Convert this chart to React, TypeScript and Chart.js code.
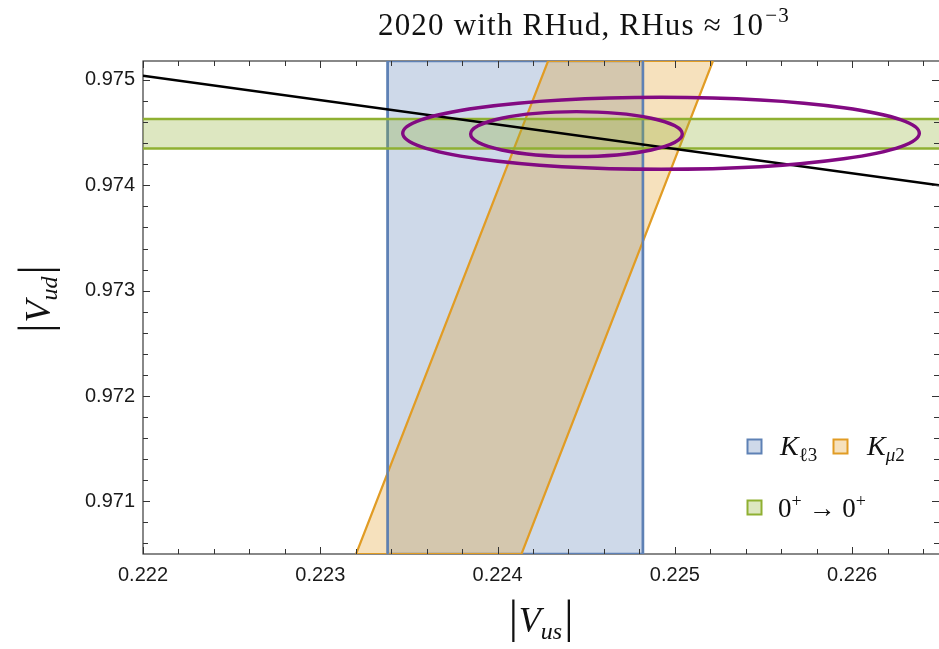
import React, { useEffect, useRef } from "react";
import { Chart, registerables } from "chart.js";

Chart.register(...registerables);

// ---------- axes ----------
const xMin = 0.222;
const xMax = 0.22649;
const yMin = 0.9705;
const yMax = 0.97518;
const xTickLabels = [0.222, 0.223, 0.224, 0.225, 0.226];
const yTickLabels = [0.971, 0.972, 0.973, 0.974, 0.975];
const minorStep = 0.0002;

// ---------- data ----------
// K_l3 band: |Vus| range
const kl3Vus = [0.22338, 0.22482];
// K_mu2 band: each edge given by |Vus| at |Vud| = kmu2EdgeVud[0] and kmu2EdgeVud[1]
const kmu2EdgeVud = [0.9705, 0.97518];
const kmu2LeftEdgeVus = [0.223202, 0.224285];
const kmu2RightEdgeVus = [0.224135, 0.225215];
// 0+ -> 0+ band: |Vud| range
const superallowedVud = [0.97435, 0.97463];
// unitarity line
const unitarityVus = [0.222, 0.22649];
const unitarityVud = [0.97504, 0.974];
// fit ellipses (inner, outer)
const ellipseCenterVus = [0.224445, 0.224922];
const ellipseCenterVud = [0.974486, 0.974494];
const ellipseHalfWidthVus = [0.000597, 0.001457];
const ellipseHalfHeightVud = [0.000213, 0.000342];

// ---------- style ----------
const BLUE = "#5E81B5";
const BLUE_FILL = "rgba(94,129,181,0.3)";
const ORANGE = "#E19C24";
const ORANGE_FILL = "rgba(225,156,36,0.3)";
const GREEN = "#8FB032";
const GREEN_FILL = "rgba(143,176,50,0.3)";
const PURPLE = "#820A82";
const SERIF = "'Liberation Serif', 'DejaVu Serif', serif";
const SANS = "'Liberation Sans', Arial, sans-serif";

type Part = { t: string; font: string; dy?: number; dx?: number };

function richWidth(ctx: CanvasRenderingContext2D, parts: Part[]) {
  let w = 0;
  for (const p of parts) {
    ctx.font = p.font;
    w += ctx.measureText(p.t).width + (p.dx || 0);
  }
  return w;
}

function drawRich(
  ctx: CanvasRenderingContext2D,
  parts: Part[],
  x: number,
  y: number,
  align: "left" | "center"
) {
  const w = richWidth(ctx, parts);
  let cx = align === "center" ? x - w / 2 : x;
  ctx.textAlign = "left";
  ctx.textBaseline = "alphabetic";
  for (const p of parts) {
    ctx.font = p.font;
    cx += p.dx || 0;
    ctx.fillText(p.t, cx, y + (p.dy || 0));
    cx += ctx.measureText(p.t).width;
  }
}

const decorPlugin = {
  id: "decor",
  beforeDatasetsDraw(chart: any) {
    const { ctx, chartArea: a } = chart;
    ctx.save();
    ctx.strokeStyle = "#3a3a3a";
    ctx.lineWidth = 1.2;
    ctx.strokeRect(a.left, a.top, a.right - a.left + 2, a.bottom - a.top);
    ctx.restore();
  },
  afterDatasetsDraw(chart: any) {
    const { ctx, chartArea: a } = chart;
    const xs = chart.scales.x;
    const ys = chart.scales.y;

    // ellipses
    ctx.save();
    ctx.beginPath();
    ctx.rect(a.left, a.top, a.right - a.left, a.bottom - a.top);
    ctx.clip();
    ctx.strokeStyle = PURPLE;
    ctx.lineWidth = 3.4;
    for (let i = 0; i < ellipseCenterVus.length; i++) {
      const cx = xs.getPixelForValue(ellipseCenterVus[i]);
      const cy = ys.getPixelForValue(ellipseCenterVud[i]);
      const rx = Math.abs(xs.getPixelForValue(ellipseCenterVus[i] + ellipseHalfWidthVus[i]) - cx);
      const ry = Math.abs(ys.getPixelForValue(ellipseCenterVud[i] + ellipseHalfHeightVud[i]) - cy);
      ctx.beginPath();
      ctx.ellipse(cx, cy, rx, ry, 0, 0, Math.PI * 2);
      ctx.stroke();
    }
    ctx.restore();

    // inward frame ticks
    ctx.save();
    ctx.strokeStyle = "#333";
    ctx.lineWidth = 1;
    const x0 = xTickLabels[0];
    for (let k = 0; ; k++) {
      const v = x0 + k * minorStep;
      if (v > xMax + 1e-9) break;
      const px = Math.round(xs.getPixelForValue(v)) + 0.5;
      const len = k % 5 === 0 ? 7 : 5;
      ctx.beginPath();
      ctx.moveTo(px, a.bottom);
      ctx.lineTo(px, a.bottom - len);
      ctx.moveTo(px, a.top);
      ctx.lineTo(px, a.top + len);
      ctx.stroke();
    }
    const y0 = yTickLabels[0];
    for (let k = -5; k < 40; k++) {
      const v = y0 + k * minorStep;
      if (v < yMin - 1e-9) continue;
      if (v > yMax + 1e-9) break;
      const py = Math.round(ys.getPixelForValue(v)) + 0.5;
      const len = ((k % 5) + 5) % 5 === 0 ? 7 : 5;
      ctx.beginPath();
      ctx.moveTo(a.left, py);
      ctx.lineTo(a.left + len, py);
      ctx.moveTo(a.right, py);
      ctx.lineTo(a.right - len, py);
      ctx.stroke();
    }
    ctx.restore();

    // texts
    ctx.save();
    ctx.fillStyle = "#111";
    // title
    (ctx as any).letterSpacing = "1.2px";
    drawRich(
      ctx,
      [
        { t: "2020 with RHud, RHus ≈ 10", font: `31px ${SERIF}` },
        { t: "−3", font: `21px ${SERIF}`, dy: -13, dx: 1 },
      ],
      584,
      35,
      "center"
    );
    (ctx as any).letterSpacing = "0px";
    // x label
    const vus: Part[] = [
      { t: "|", font: `46px ${SERIF}` },
      { t: "V", font: `italic 36px ${SERIF}`, dx: 1 },
      { t: "us", font: `italic 24px ${SERIF}`, dy: 7 },
      { t: "|", font: `46px ${SERIF}`, dx: 2 },
    ];
    drawRich(ctx, vus, 541, 632, "center");
    // y label
    const vud: Part[] = [
      { t: "|", font: `46px ${SERIF}` },
      { t: "V", font: `italic 36px ${SERIF}`, dx: 1 },
      { t: "ud", font: `italic 24px ${SERIF}`, dy: 7 },
      { t: "|", font: `46px ${SERIF}`, dx: 2 },
    ];
    ctx.save();
    ctx.translate(50, 299);
    ctx.rotate(-Math.PI / 2);
    drawRich(ctx, vud, 0, 0, "center");
    ctx.restore();

    // legend
    const sq = (x: number, y: number, fill: string, stroke: string) => {
      ctx.fillStyle = "#fff";
      ctx.fillRect(x, y, 15, 15);
      ctx.fillStyle = fill;
      ctx.fillRect(x, y, 15, 15);
      ctx.strokeStyle = stroke;
      ctx.lineWidth = 2;
      ctx.strokeRect(x + 0.5, y + 0.5, 14, 14);
    };
    sq(747, 439, BLUE_FILL, BLUE);
    sq(833, 439, ORANGE_FILL, ORANGE);
    sq(747, 500, GREEN_FILL, GREEN);
    ctx.fillStyle = "#111";
    drawRich(
      ctx,
      [
        { t: "K", font: `italic 28px ${SERIF}` },
        { t: "ℓ3", font: `19px ${SERIF}`, dy: 6, dx: 0 },
      ],
      780,
      455,
      "left"
    );
    drawRich(
      ctx,
      [
        { t: "K", font: `italic 28px ${SERIF}` },
        { t: "μ", font: `italic 19px ${SERIF}`, dy: 6 },
        { t: "2", font: `19px ${SERIF}`, dy: 6 },
      ],
      867,
      455,
      "left"
    );
    drawRich(
      ctx,
      [
        { t: "0", font: `27px ${SERIF}` },
        { t: "+", font: `18px ${SERIF}`, dy: -10 },
        { t: " → ", font: `27px ${SERIF}` },
        { t: "0", font: `27px ${SERIF}` },
        { t: "+", font: `18px ${SERIF}`, dy: -10 },
      ],
      778,
      517,
      "left"
    );
    ctx.restore();
  },
};

export default function App() {
  const ref = useRef<HTMLCanvasElement | null>(null);

  useEffect(() => {
    document.body.style.margin = "0";
    const canvas = ref.current;
    if (!canvas) return;

    const line = (data: { x: number; y: number }[], color: string, width: number, extra: any = {}) => ({
      data,
      borderColor: color,
      borderWidth: width,
      pointRadius: 0,
      tension: 0,
      fill: false,
      ...extra,
    });

    const datasets = [
      // 0: unitarity (top-most)
      line(
        unitarityVus.map((x, i) => ({ x, y: unitarityVud[i] })),
        "#000",
        2.4
      ),
      // 1-2: 0+ -> 0+ band
      line(
        [
          { x: xMin, y: superallowedVud[1] },
          { x: xMax, y: superallowedVud[1] },
        ],
        GREEN,
        2.4
      ),
      line(
        [
          { x: xMin, y: superallowedVud[0] },
          { x: xMax, y: superallowedVud[0] },
        ],
        GREEN,
        2.4,
        { fill: "-1", backgroundColor: GREEN_FILL }
      ),
      // 3-4: K_l3 vertical edges (above the K_mu2 fill)
      line(
        [
          { x: kl3Vus[0], y: yMin },
          { x: kl3Vus[0], y: yMax },
        ],
        BLUE,
        2.4
      ),
      line(
        [
          { x: kl3Vus[1], y: yMin },
          { x: kl3Vus[1], y: yMax },
        ],
        BLUE,
        2.4
      ),
      // 5-6: K_mu2 band
      line(
        [
          { x: kmu2LeftEdgeVus[0], y: kmu2EdgeVud[0] },
          { x: kmu2LeftEdgeVus[1], y: kmu2EdgeVud[1] },
          { x: kmu2RightEdgeVus[1], y: kmu2EdgeVud[1] },
        ],
        ORANGE,
        2.2
      ),
      line(
        [
          { x: kmu2LeftEdgeVus[0], y: kmu2EdgeVud[0] },
          { x: kmu2RightEdgeVus[0], y: kmu2EdgeVud[0] },
          { x: kmu2RightEdgeVus[1], y: kmu2EdgeVud[1] },
        ],
        ORANGE,
        2.2,
        { fill: "-1", backgroundColor: ORANGE_FILL }
      ),
      // 7: K_l3 bottom edge
      line(
        [
          { x: kl3Vus[0], y: yMin },
          { x: kl3Vus[1], y: yMin },
        ],
        BLUE,
        2.4
      ),
      // 8: K_l3 band fill
      line(
        [
          { x: kl3Vus[0], y: yMin },
          { x: kl3Vus[0], y: yMax },
          { x: kl3Vus[1], y: yMax },
          { x: kl3Vus[1], y: yMin },
        ],
        BLUE,
        2.4,
        { fill: "start", backgroundColor: BLUE_FILL }
      ),
    ];

    const tickFont = { family: SANS, size: 20 };

    const chart = new Chart(canvas, {
      type: "line",
      data: { datasets },
      plugins: [decorPlugin],
      options: {
        responsive: false,
        animation: false,
        events: [],
        layout: { padding: { top: 61, left: 0, right: 0, bottom: 0 } },
        plugins: {
          legend: { display: false },
          tooltip: { enabled: false },
          title: { display: false },
        },
        scales: {
          x: {
            type: "linear",
            min: xMin,
            max: xMax,
            grid: { display: false, drawTicks: false },
            border: { display: false },
            afterBuildTicks: (s: any) => {
              s.ticks = xTickLabels.map((v) => ({ value: v }));
            },
            afterFit: (s: any) => {
              s.height = 95;
            },
            ticks: {
              padding: 9,
              font: tickFont,
              color: "#1a1a1a",
              autoSkip: false,
              maxRotation: 0,
              callback: (v: any) => Number(v).toFixed(3),
            },
          },
          y: {
            type: "linear",
            min: yMin,
            max: yMax,
            grid: { display: false, drawTicks: false },
            border: { display: false },
            afterBuildTicks: (s: any) => {
              s.ticks = yTickLabels.map((v) => ({ value: v }));
            },
            afterFit: (s: any) => {
              s.width = 143;
            },
            ticks: {
              padding: 8,
              font: tickFont,
              color: "#1a1a1a",
              autoSkip: false,
              callback: (v: any) => Number(v).toFixed(3),
            },
          },
        },
      } as any,
    });

    return () => chart.destroy();
  }, []);

  return (
    <div style={{ width: 939, height: 649, background: "#fff" }}>
      <canvas ref={ref} width={939} height={649} style={{ display: "block" }} />
    </div>
  );
}
